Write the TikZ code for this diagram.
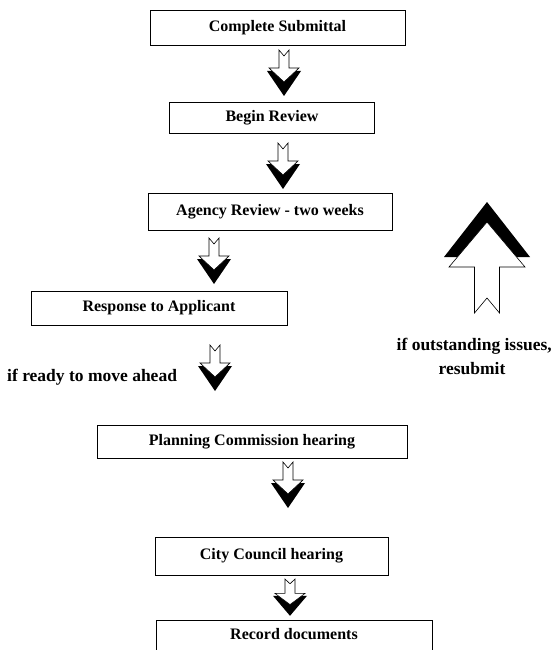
\documentclass[tikz,border=0pt]{standalone}
\usepackage{fontspec}
\setmainfont{Liberation Serif}
\begin{document}
\begin{tikzpicture}[x=1pt,y=-1pt,
  stagebox/.style={draw,line width=0.9pt,fill=white,inner sep=0pt,font=\fontsize{16}{18}\selectfont\bfseries},
  lbl/.style={inner sep=0pt,font=\fontsize{17.5}{20}\selectfont\bfseries},
  boxlbl/.style={inner sep=0pt,font=\fontsize{16}{18}\selectfont\bfseries},
  blockfill/.style={fill=white,draw=black,line width=0.6pt,line join=miter},
  shadowfill/.style={fill=black},
  downarrow/.pic={
    \fill[shadowfill] (-17,21) -- (17,21) -- (0,46) -- cycle;
    \draw[blockfill] (-5,0) -- (0,6) -- (5,0) -- (5,18) -- (15,18) -- (0,32) -- (-15,18) -- (-5,18) -- cycle;
  }]
\useasboundingbox (0,0) rectangle (552,650);
\fill[white] (0,0) rectangle (552,650);
\begin{scope}
\clip (0,0) rectangle (552,650);
% boxes
\node[stagebox,minimum width=255,minimum height=35] (b1) at (277.5,27.5) {Complete Submittal};
\node[stagebox,minimum width=205,minimum height=31] (b2) at (272,118) {Begin Review};
\node[stagebox,minimum width=244,minimum height=37] (b3) at (270,211.5) {Agency Review - two weeks};
\node[stagebox,minimum width=256,minimum height=34] (b4) at (159,308) {Response to Applicant};
\node[stagebox,minimum width=310,minimum height=33] (b5) at (252,441.5) {Planning Commission hearing};
\node[stagebox,minimum width=233,minimum height=38] (b6) at (271.5,556) {City Council hearing};
\draw[line width=0.9pt] (156,660) -- (156,620) -- (432,620) -- (432,660);
\node[boxlbl] (b7) at (294,634) {Record documents};
% block arrows
\pic at (284,50) {downarrow};
\pic at (283,143) {downarrow};
\pic at (214,238) {downarrow};
\pic at (215,345) {downarrow};
\pic at (288,462) {downarrow};
\pic[yscale=0.8] at (290,579) {downarrow};
% big up arrow
\fill[shadowfill] (487,202) -- (530,257) -- (444,257) -- cycle;
\draw[blockfill] (474.5,313) -- (487,298) -- (499.5,313) -- (499.5,267) -- (525,267) -- (487,222) -- (449,267) -- (474.5,267) -- cycle;
% labels
\node[lbl,anchor=west] (l1) at (7,377) {if ready to move ahead};
\node[lbl,anchor=east] (l2) at (552,346) {if outstanding issues,};
\node[lbl] (l3) at (472,369) {resubmit};
\end{scope}
\end{tikzpicture}
\end{document}
